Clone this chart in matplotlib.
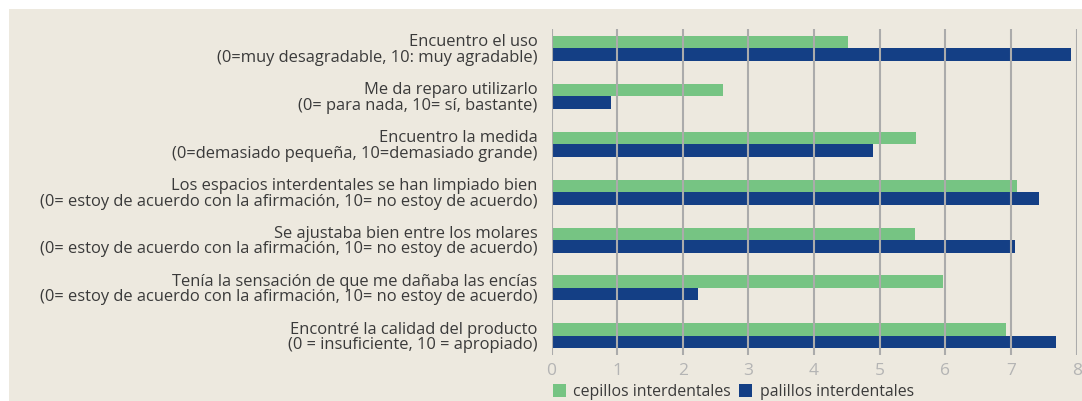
import matplotlib
matplotlib.use("Agg")
import matplotlib.pyplot as plt
import numpy as np
from matplotlib.patches import Patch

categories = [
    "Encuentro el uso\n(0=muy desagradable, 10: muy agradable)",
    "Me da reparo utilizarlo\n(0= para nada, 10= sí, bastante)",
    "Encuentro la medida\n(0=demasiado pequeña, 10=demasiado grande)",
    "Los espacios interdentales se han limpiado bien\n(0= estoy de acuerdo con la afirmación, 10= no estoy de acuerdo)",
    "Se ajustaba bien entre los molares\n(0= estoy de acuerdo con la afirmación, 10= no estoy de acuerdo)",
    "Tenía la sensación de que me dañaba las encías\n(0= estoy de acuerdo con la afirmación, 10= no estoy de acuerdo)",
    "Encontré la calidad del producto\n(0 = insuficiente, 10 = apropiado)",
]
cepillos = [4.51, 2.61, 5.55, 7.09, 5.53, 5.96, 6.92]
palillos = [7.91, 0.90, 4.90, 7.42, 7.06, 2.23, 7.68]
series_names = ["cepillos interdentales", "palillos interdentales"]
xticks = [0, 1, 2, 3, 4, 5, 6, 7, 8]

BG = "#EDE9DF"
GREEN = "#76C483"
BLUE = "#143F85"
TEXT = "#3A3A3A"
GRID = "#ABABAB"

plt.rcParams['font.family'] = ['Open Sans', 'DejaVu Sans']

fig = plt.figure(figsize=(10.82, 4.01), dpi=100)
fig.patch.set_facecolor("white")
# beige panel
fig.patches.append(plt.Rectangle((9/1082, 0), 1 - 9/1082, 1 - 9/401,
                                 transform=fig.transFigure, facecolor=BG,
                                 edgecolor="none", zorder=-10))

ax = fig.add_axes([551.5/1082, 1 - 355/401, (1076.7 - 551.5)/1082, (355 - 29.3)/401])
ax.set_facecolor("none")

y = np.arange(len(categories))
h = 0.26
ax.barh(y - h/2, cepillos, height=h, color=GREEN, zorder=2)
ax.barh(y + h/2, palillos, height=h, color=BLUE, zorder=2)

ax.set_xlim(0, 8)
ax.set_ylim(len(categories) - 0.6, -0.4)
ax.set_xticks(xticks)
ax.set_xticklabels([str(t) for t in xticks])
ax.set_yticks(y)
ax.set_yticklabels(categories, fontsize=11.9, color=TEXT, linespacing=0.95)
ax.tick_params(axis='y', length=0, pad=10)
ax.tick_params(axis='x', length=0, pad=6, labelsize=12.5, labelcolor="#B4B4B4")
for lab in ax.get_yticklabels():
    lab.set_horizontalalignment('right')
for s in ax.spines.values():
    s.set_visible(False)
ax.grid(axis='x', color=GRID, linewidth=1.5, zorder=3)
ax.set_axisbelow(False)

handles = [Patch(facecolor=GREEN, edgecolor="none"), Patch(facecolor=BLUE, edgecolor="none")]
fig.legend(handles, series_names, loc="center left", bbox_to_anchor=(540/1082, 1 - 392/401),
           ncol=2, frameon=False, fontsize=11.4, handlelength=0.85, handleheight=0.85,
           handletextpad=0.45, columnspacing=0.5, labelcolor=TEXT, borderpad=0.3)

fig.savefig("out.png", dpi=100, facecolor=fig.get_facecolor())
